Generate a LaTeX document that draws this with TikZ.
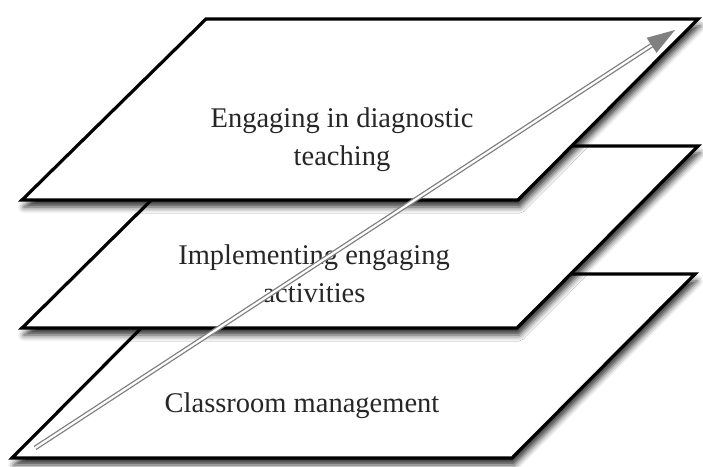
\documentclass[tikz,border=0pt]{standalone}
\usepackage{fontspec}
\setmainfont{Liberation Serif}
\usetikzlibrary{shadows.blur,arrows.meta,calc}
\begin{document}
\begin{tikzpicture}[x=1pt,y=-1pt,
  plane/.style={draw=black, fill=white, line width=3.2pt, line join=miter,
    blur shadow={shadow xshift=2pt, shadow yshift=-7pt, shadow blur radius=6pt, shadow opacity=80}},
  label/.style={font=\fontsize{28.5}{38}\selectfont, align=center, text=black!85, inner sep=0pt},
  rise/.style={draw=black!50, line width=1.3pt, double=white, double distance=2.2pt}
]
\useasboundingbox (0,0) rectangle (703,466);

% bottom layer
\path[plane] (12,458) -- (512,458) -- (695,274) -- (195,274) -- cycle;
\node[label, anchor=base] (cm) at (302,412) {Classroom management};

% middle layer
\path[plane] (22,328) -- (517,328) -- (698,146) -- (206,146) -- cycle;
\node[label, anchor=base] (ie) at (314,302) {Implementing engaging\\activities};

% top layer
\path[plane] (22,200) -- (518,200) -- (698,19) -- (206,19) -- cycle;
\node[label, anchor=base] (ed) at (342,165) {Engaging in diagnostic\\teaching};

% progression arrow across the layers
\coordinate (start) at (35,448);
\coordinate (tip) at (675,30);
\draw[rise, shorten >=24pt] (start) -- (tip);
\draw[draw=none, fill=black!50]
  (tip) -- ($(tip)!28pt!(start)!9pt!90:(tip)$) -- ($(tip)!28pt!(start)!9pt!-90:(tip)$) -- cycle;
\end{tikzpicture}
\end{document}
